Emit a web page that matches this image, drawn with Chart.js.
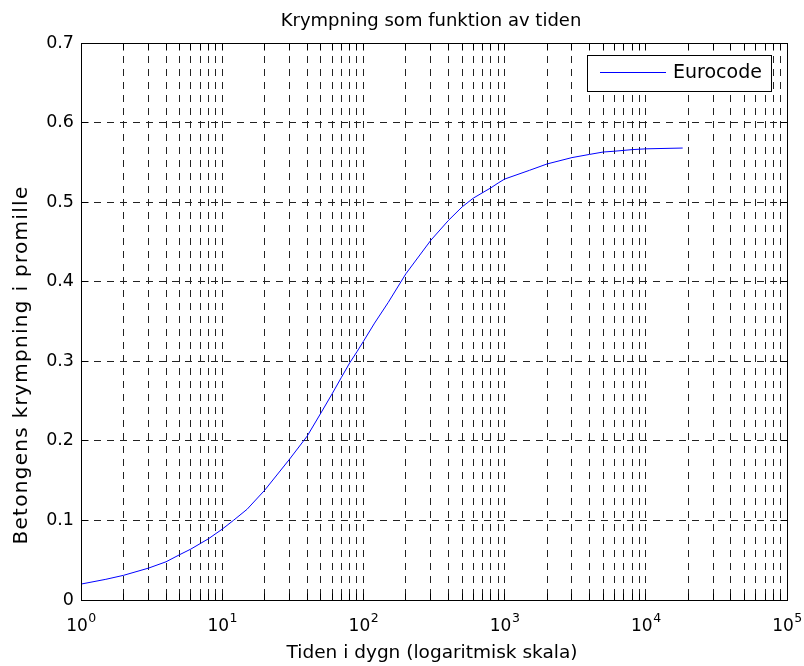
<!DOCTYPE html>
<html><head><meta charset="utf-8">
<script src="https://cdn.jsdelivr.net/npm/chart.js@4"></script>
<style>html,body{margin:0;padding:0;background:#fff}#wrap{width:804px;height:666px;position:relative}</style>
</head><body><div id="wrap"><canvas id="c" width="804" height="666"></canvas></div>
<script>
const chartTitle = 'Krympning som funktion av tiden';
const xAxisTitle = 'Tiden i dygn (logaritmisk skala)';
const yAxisTitle = 'Betongens krympning i promille';
const seriesName = 'Eurocode';

const days = [1, 1.5, 2, 3, 4, 5, 6, 7, 8, 10, 12, 15, 20, 30, 40, 50, 60, 70, 80, 90, 100,
  120, 150, 200, 300, 400, 500, 600, 700, 800, 900, 1000, 1500, 2000, 3000, 4000, 5000, 6000, 8000, 10000, 18250];
const shrinkage = [0.020, 0.026, 0.031, 0.040, 0.048, 0.057, 0.064, 0.071, 0.077, 0.089, 0.100, 0.114, 0.138, 0.177, 0.206, 0.235, 0.259, 0.280, 0.298, 0.312, 0.325,
  0.348, 0.374, 0.410, 0.452, 0.477, 0.494, 0.505, 0.512, 0.518, 0.524, 0.529, 0.540, 0.548, 0.556, 0.560, 0.563, 0.564, 0.566, 0.567, 0.568];

const xGridValues = [1, 2, 3, 4, 5, 6, 7, 8, 9,
  10, 20, 30, 40, 50, 60, 70, 80, 90,
  100, 200, 300, 400, 500, 600, 700, 800, 900,
  1000, 2000, 3000, 4000, 5000, 6000, 7000, 8000, 9000,
  10000, 20000, 30000, 40000, 50000, 60000, 70000, 80000, 90000, 100000];
const xDecades = [1, 10, 100, 1000, 10000, 100000];
const xTickBase = '10';
const xTickExponents = ['0', '1', '2', '3', '4', '5'];
const yTickValues = [0, 0.1, 0.2, 0.3, 0.4, 0.5, 0.6, 0.7];
const yTickLabels = ['0', '0.1', '0.2', '0.3', '0.4', '0.5', '0.6', '0.7'];

const FONT = 'DejaVu Sans';
const lineColor = '#0000ff';
const gridColor = '#222';

function alignPx(p) { return Math.round(p - 0.5) + 0.5; }

const decor = {
  id: 'decor',
  afterDraw(chart) {
    const { ctx, chartArea: a, scales: { x, y } } = chart;
    ctx.save();
    ctx.strokeStyle = '#000';
    ctx.lineWidth = 1;
    ctx.setLineDash([]);
    const L = alignPx(a.left), R = alignPx(a.right), T = alignPx(a.top), B = alignPx(a.bottom);
    // inward ticks
    ctx.beginPath();
    xGridValues.forEach(v => {
      const px = alignPx(x.getPixelForValue(v));
      ctx.moveTo(px, B); ctx.lineTo(px, B - 7);
      ctx.moveTo(px, T); ctx.lineTo(px, T + 7);
    });
    yTickValues.forEach(v => {
      const py = alignPx(y.getPixelForValue(v));
      ctx.moveTo(L, py); ctx.lineTo(L + 7, py);
      ctx.moveTo(R, py); ctx.lineTo(R - 7, py);
    });
    ctx.stroke();
    // frame
    ctx.strokeRect(L, T, R - L, B - T);

    // x decade labels with superscript exponents
    ctx.fillStyle = '#000';
    ctx.textBaseline = 'alphabetic';
    ctx.textAlign = 'left';
    xDecades.forEach((v, i) => {
      const px = x.getPixelForValue(v);
      ctx.font = '17px "' + FONT + '"';
      const wb = ctx.measureText(xTickBase).width;
      ctx.font = '12.5px "' + FONT + '"';
      const we = ctx.measureText(xTickExponents[i]).width;
      const x0 = px - (wb + we) / 2;
      ctx.font = '17px "' + FONT + '"';
      ctx.fillText(xTickBase, x0, 631);
      ctx.font = '12.5px "' + FONT + '"';
      ctx.fillText(xTickExponents[i], x0 + wb + 0.5, 622);
    });

    // titles
    ctx.textAlign = 'center';
    ctx.font = '18px "' + FONT + '"';
    ctx.fillText(chartTitle, 431, 26);
    ctx.font = '18.5px "' + FONT + '"';
    ctx.fillText(xAxisTitle, 432, 658);
    ctx.save();
    ctx.translate(22, 365);
    ctx.rotate(-Math.PI / 2);
    ctx.font = '20px "' + FONT + '"';
    try { ctx.letterSpacing = '1.3px'; } catch (e) {}
    ctx.textBaseline = 'middle';
    ctx.fillText(yAxisTitle, 0, 0);
    ctx.restore();

    // legend
    const ds = chart.data.datasets[0];
    ctx.fillStyle = '#fff';
    ctx.fillRect(587, 55, 185, 37);
    ctx.strokeStyle = '#000';
    ctx.strokeRect(587.5, 55.5, 184, 36);
    ctx.strokeStyle = ds.borderColor;
    ctx.beginPath();
    ctx.moveTo(600, 72.5); ctx.lineTo(666, 72.5);
    ctx.stroke();
    ctx.fillStyle = '#000';
    ctx.textAlign = 'left';
    ctx.textBaseline = 'middle';
    ctx.font = '19px "' + FONT + '"';
    ctx.fillText(ds.label, 673, 73);
    ctx.restore();
  }
};

new Chart(document.getElementById('c'), {
  type: 'line',
  data: {
    datasets: [{
      label: seriesName,
      data: days.map((d, i) => ({ x: d, y: shrinkage[i] })),
      borderColor: lineColor,
      borderWidth: 1,
      pointRadius: 0,
      tension: 0,
      fill: false
    }]
  },
  options: {
    responsive: false,
    animation: false,
    layout: { padding: { top: 43, right: 17, left: 0, bottom: 0 } },
    plugins: { legend: { display: false }, title: { display: false }, tooltip: { enabled: false } },
    scales: {
      x: {
        type: 'logarithmic',
        min: 1, max: 100000,
        afterBuildTicks: s => { s.ticks = xGridValues.map(v => ({ value: v })); },
        afterFit: s => { s.height = 66; s.paddingLeft = 0; s.paddingRight = 0; },
        grid: { color: gridColor, lineWidth: 1, drawTicks: false },
        border: { display: false, dash: [7, 6] },
        ticks: { display: false, autoSkip: false, maxRotation: 0, minRotation: 0 }
      },
      y: {
        min: 0, max: 0.7,
        afterBuildTicks: s => { s.ticks = yTickValues.map(v => ({ value: v })); },
        afterFit: s => { s.width = 81; s.paddingTop = 0; s.paddingBottom = 0; },
        grid: { color: gridColor, lineWidth: 1, drawTicks: false },
        border: { display: false, dash: [7, 6] },
        ticks: {
          padding: 7, color: '#000', font: { family: FONT, size: 17.5 },
          callback: (v, i) => yTickLabels[i]
        }
      }
    }
  },
  plugins: [decor]
});
</script>
</body></html>
